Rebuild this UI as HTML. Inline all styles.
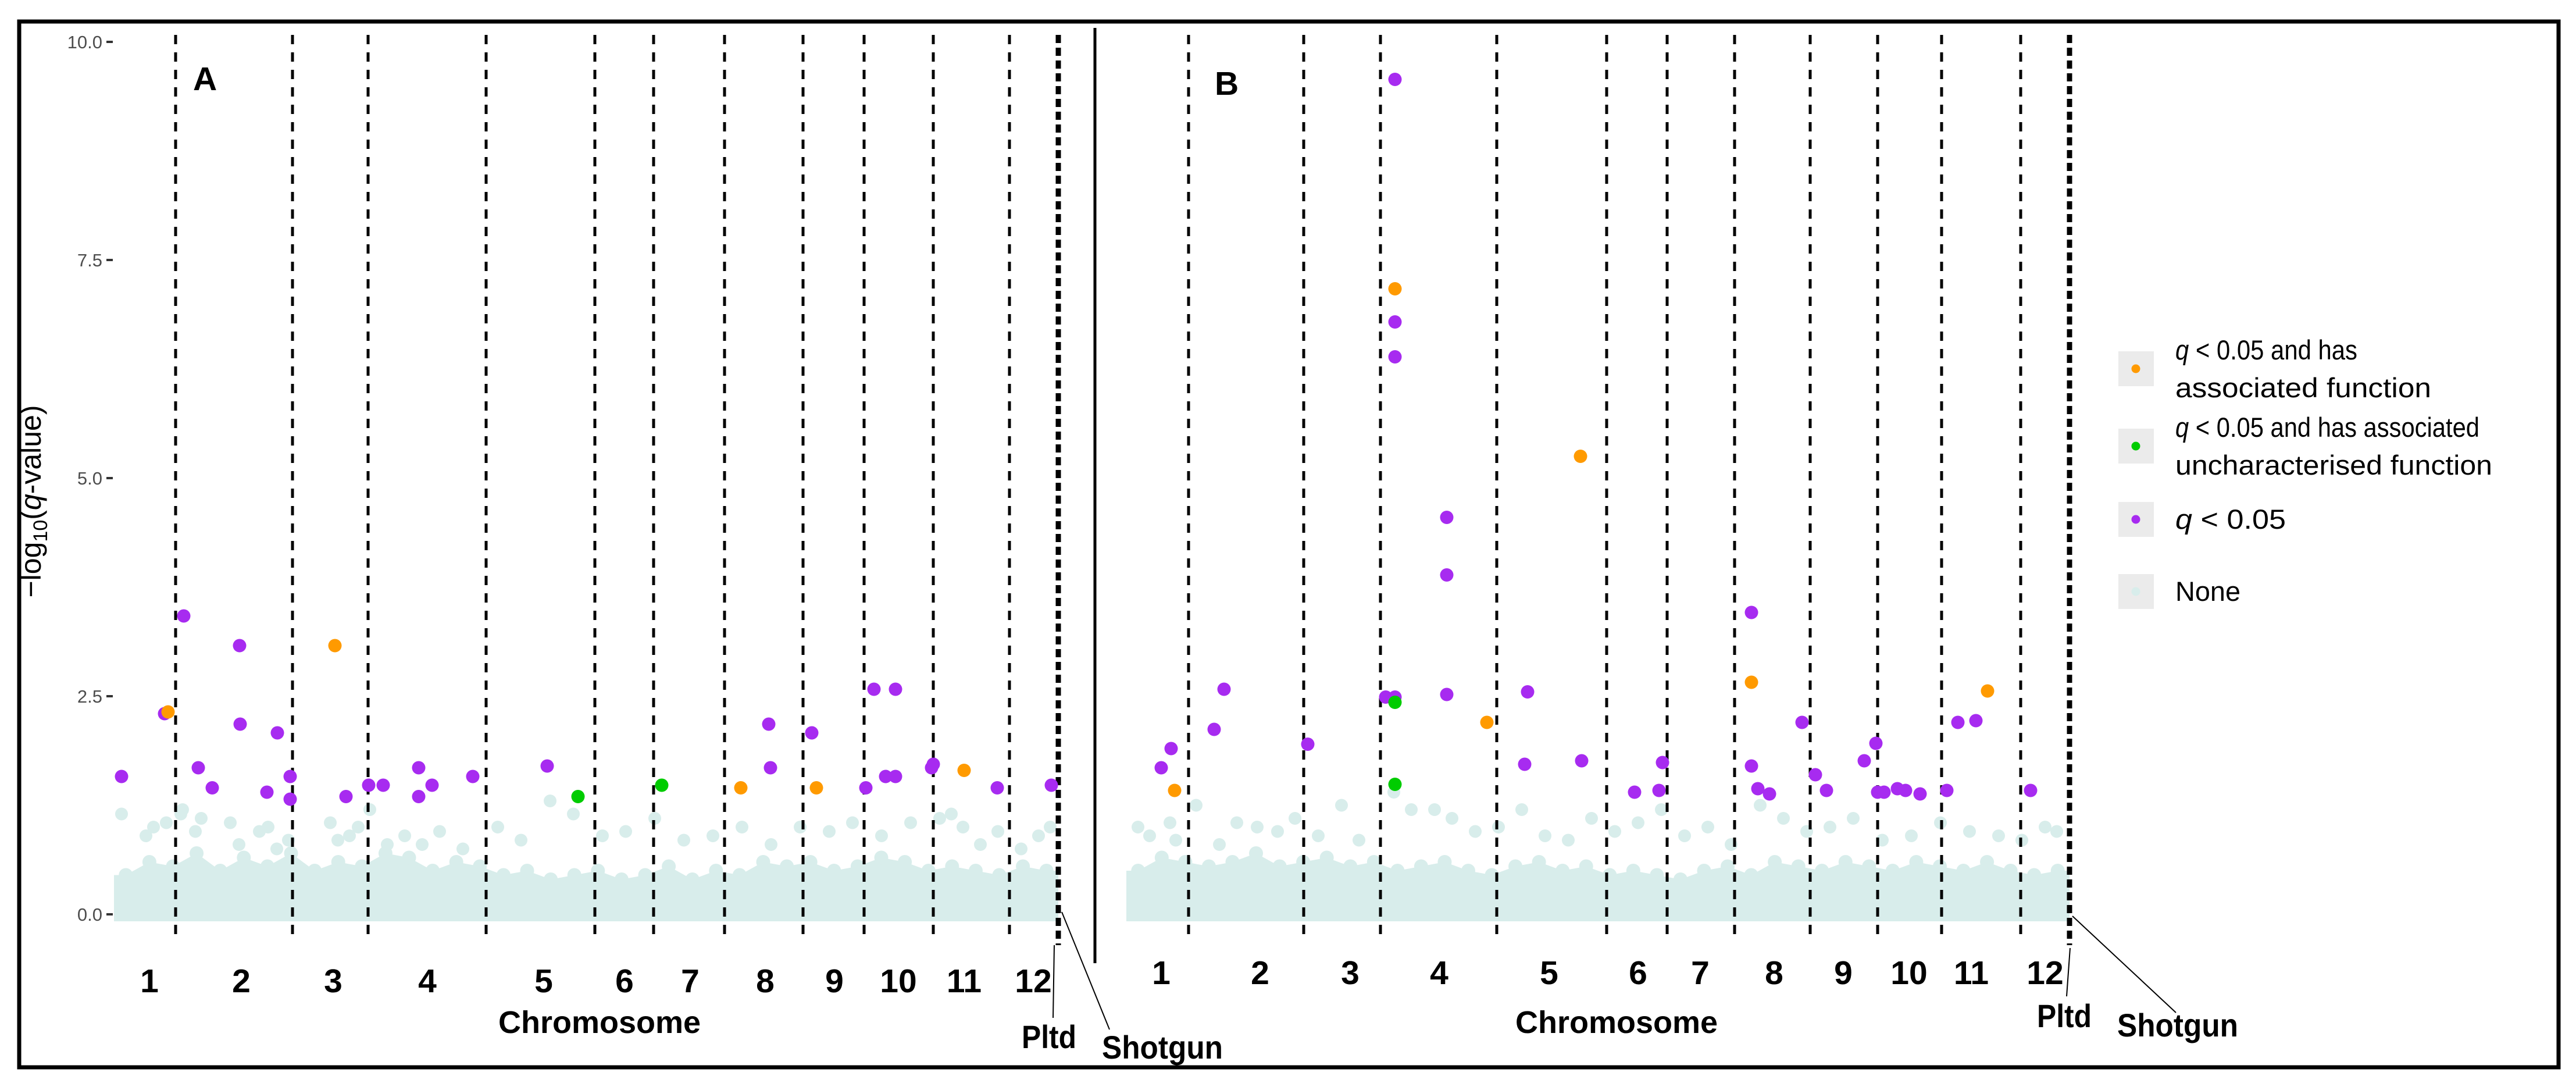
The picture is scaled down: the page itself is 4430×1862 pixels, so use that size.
<!DOCTYPE html>
<html><head><meta charset="utf-8"><style>
html,body{margin:0;padding:0;background:#fff;}
svg{display:block;}
text{font-family:"Liberation Sans",sans-serif;}
</style></head><body>
<svg id="chart" width="4430" height="1862" viewBox="0 0 4430 1862" xmlns="http://www.w3.org/2000/svg">
<rect x="33" y="37" width="4367" height="1798" fill="none" stroke="#000" stroke-width="7"/>
<g id="layer"></g>
</svg>
<script>
// ---------- data ----------
const yTicks = [0, 2.5, 5, 7.5, 10];
const yTickLabels = ["0.0", "2.5", "5.0", "7.5", "10.0"];
const chromLabels = ["1","2","3","4","5","6","7","8","9","10","11","12"];
const boundsA = [106, 307, 437, 640, 827, 928, 1050, 1185, 1290, 1409, 1540];
const boundsB = [107, 305, 437, 637, 826, 930, 1046, 1176, 1292, 1402, 1538];
const pltdA = 1624;
const pltdB = 1622;
const chromLabelPosA = [61, 219, 377, 539, 739, 878, 991, 1120, 1239, 1349, 1462, 1581];
const chromLabelPosB = [60, 230, 385, 538, 727, 880, 987, 1114, 1233, 1346, 1453, 1580];
const hitPosA = [13,87,93,120,145,169,216,217,263,281,303,303,380,399,438,463,524,524,547,617,745,798,942,1078,1126,1129,1200,1208,1293,1307,1344,1327,1344,1406,1409,1462,1519,1612];
const hitValA = [1.58,2.3,2.32,3.42,1.68,1.45,3.08,2.18,1.4,2.08,1.58,1.32,3.08,1.35,1.48,1.48,1.68,1.35,1.48,1.58,1.7,1.35,1.48,1.45,2.18,1.68,2.08,1.45,1.45,2.58,2.58,1.58,1.58,1.68,1.72,1.65,1.45,1.48];
const hitClsA = ["p","p","o","p","p","p","p","p","p","p","p","p","o","p","p","p","p","p","p","p","p","g","g","o","p","p","p","o","p","p","p","p","p","p","p","o","p","p"];
const hitPosB = [60,77,83,151,168,312,446,462,462,462,462,462,462,462,551,551,551,620,685,690,781,783,874,922,916,1075,1075,1075,1086,1106,1162,1185,1204,1269,1289,1292,1303,1326,1340,1365,1411,1430,1461,1481,1555];
const hitValB = [1.68,1.9,1.42,2.12,2.58,1.95,2.49,9.57,7.17,6.79,6.39,2.49,2.43,1.49,4.55,3.89,2.52,2.2,1.72,2.55,5.25,1.76,1.4,1.74,1.42,3.46,2.66,1.7,1.44,1.38,2.2,1.6,1.42,1.76,1.96,1.4,1.4,1.44,1.42,1.38,1.42,2.2,2.22,2.56,1.42];
const hitClsB = ["p","p","o","p","p","p","p","p","o","p","p","p","g","g","p","p","p","o","p","p","o","p","p","p","p","p","o","p","p","p","p","p","p","p","p","p","p","p","p","p","p","p","p","o","p"];
const envA = [0.45,0.6,0.55,0.7,0.5,0.65,0.55,0.7,0.5,0.6,0.55,0.7,0.65,0.5,0.6,0.55,0.45,0.5,0.4,0.45,0.5,0.4,0.45,0.55,0.4,0.5,0.45,0.6,0.55,0.6,0.5,0.55,0.65,0.6,0.5,0.55,0.5,0.45,0.55,0.5];
const envB = [0.5,0.65,0.6,0.55,0.6,0.7,0.55,0.6,0.65,0.55,0.6,0.5,0.55,0.6,0.5,0.45,0.55,0.6,0.5,0.55,0.45,0.5,0.45,0.4,0.5,0.55,0.45,0.6,0.55,0.5,0.6,0.55,0.5,0.6,0.55,0.5,0.6,0.5,0.45,0.5];
const nonPosA = [13,55,68,90,115,118,140,150,200,215,250,265,280,300,372,385,405,420,440,470,500,530,560,600,660,700,750,790,840,880,930,980,1030,1080,1130,1180,1230,1270,1320,1370,1420,1440,1460,1490,1520,1560,1590,1610];
const nonValA = [1.15,0.9,1.0,1.05,1.15,1.2,0.95,1.1,1.05,0.8,0.95,1.0,0.75,0.85,1.05,0.85,0.9,1.0,1.2,0.8,0.9,0.8,0.95,0.75,1.0,0.85,1.3,1.15,0.9,0.95,1.1,0.85,0.9,1.0,0.8,1.0,0.95,1.05,0.9,1.05,1.1,1.15,1.0,0.8,0.95,0.75,0.9,1.0];
const nonPosB = [20,40,75,85,120,160,190,225,260,290,330,370,400,460,490,530,560,600,640,680,720,760,800,840,880,920,960,1000,1040,1090,1130,1170,1210,1250,1300,1350,1400,1450,1500,1540,1580,1600];
const nonValB = [1.0,0.9,1.05,0.85,1.25,0.8,1.05,1.0,0.95,1.1,0.9,1.25,0.85,1.4,1.2,1.2,1.1,0.95,1.0,1.2,0.9,0.85,1.1,0.95,1.05,1.2,0.9,1.0,0.8,1.25,1.1,0.95,1.0,1.1,0.85,0.9,1.05,0.95,0.9,0.85,1.0,0.95];

// ---------- scales ----------
const Y0 = 1572, PXU = 150;
const yScale = v => Y0 - v * PXU;
const panels = [
  {id:"a", x0:196, bounds:boundsA, pltd:pltdA, labPos:chromLabelPosA, hp:hitPosA, hv:hitValA, hc:hitClsA, env:envA, np:nonPosA, nv:nonValA, lab:"A", labX:332, labY:155,
   chromX:1031, pltdTxt:[1757,1802], shotTxt:[1895,1820], labelY:1706, pltdLine:[1813,1625,1811,1750], shotLine:[1826,1568,1908,1770]},
  {id:"b", x0:1937, bounds:boundsB, pltd:pltdB, labPos:chromLabelPosB, hp:hitPosB, hv:hitValB, hc:hitClsB, env:envB, np:nonPosB, nv:nonValB, lab:"B", labX:2089, labY:163,
   chromX:2780, pltdTxt:[3503,1766], shotTxt:[3641,1782], labelY:1692, pltdLine:[3560,1630,3554,1713], shotLine:[3564,1575,3742,1741]}
];
const colors = {o:"#ff9a00", g:"#00cc00", p:"#a72bf0"};
const NONE_COL = "#d8edeb";
const NS = "http://www.w3.org/2000/svg";
const layer = document.getElementById("layer");
function mk(tag, attrs, parent){ const e=document.createElementNS(NS,tag); for(const k in attrs) e.setAttribute(k,attrs[k]); (parent||layer).appendChild(e); return e; }

yTicks.forEach((t,i)=>{
  const y = yScale(t);
  const tk = mk("line",{x1:183,x2:194,y1:y,y2:y,stroke:"#333",'stroke-width':4});
  
  
  const tx = mk("text",{x:176,y:y+11,'text-anchor':'end','font-size':31,fill:'#4d4d4d'});
  tx.textContent = yTickLabels[i];
  
  
});
const yt = mk("text",{transform:"translate(70,862) rotate(-90)",'text-anchor':'middle','font-size':50,fill:'#000'});


yt.innerHTML = '\u2212log<tspan font-size="34" dy="11">10</tspan><tspan dy="-11">(</tspan><tspan font-style="italic">q</tspan>-value)';

const dv = mk("line",{x1:1883,x2:1883,y1:48,y2:1656,stroke:'#000','stroke-width':5});



panels.forEach(p=>{
  const xs = v => p.x0 + v;
  const g = mk("g",{});
  
  
  const n = p.env.length, w = p.pltd / n;
  let d = `M${xs(0)},${yScale(0)+12} L${xs(0)},${yScale(p.env[0])}`;
  p.env.forEach((v,i)=>{ d += ` L${xs((i+0.5)*w)},${yScale(v)}`; });
  d += ` L${xs(p.pltd)},${yScale(p.env[n-1])} L${xs(p.pltd)},${yScale(0)+12} Z`;
  const env = mk("path",{d:d,fill:NONE_COL},g);
  
  
  p.env.forEach((v,i)=>{
    const c = mk("circle",{cx:xs((i+0.5)*w),cy:yScale(v),r:12,fill:NONE_COL},g);
    
    
  });
  p.np.forEach((pos,i)=>{
    const c = mk("circle",{cx:xs(pos),cy:yScale(p.nv[i]),r:11,fill:NONE_COL},g);
    
    
  });
  p.bounds.forEach(b=>{
    const l = mk("line",{x1:xs(b),x2:xs(b),y1:60,y2:1612,stroke:'#000','stroke-width':5,'stroke-dasharray':'16 14'},g);
    
    
  });
  const pl = mk("line",{x1:xs(p.pltd),x2:xs(p.pltd),y1:60,y2:1625,stroke:'#000','stroke-width':9,'stroke-dasharray':'14 8'},g);
  
  
  ["p","g","o"].forEach(cls=>{
    p.hp.forEach((pos,i)=>{
      if(p.hc[i]!==cls) return;
      const c = mk("circle",{cx:xs(pos),cy:yScale(p.hv[i]),r:11.5,fill:colors[cls]},g);
      
      
    });
  });
  p.labPos.forEach((pos,i)=>{
    const t = mk("text",{x:xs(pos),y:p.labelY,'text-anchor':'middle','font-size':57,'font-weight':'bold',fill:'#000'},g);
    t.textContent = chromLabels[i];
    
    
  });
  const ct = mk("text",{x:p.chromX,y:1776,'text-anchor':'middle','font-size':54,'font-weight':'bold',fill:'#000'},g);
  ct.textContent = "Chromosome";
  
  
  const pt = mk("text",{x:p.pltdTxt[0],y:p.pltdTxt[1],'font-size':56,'font-weight':'bold',fill:'#000',textLength:94,lengthAdjust:'spacingAndGlyphs'},g);
  pt.textContent = "Pltd";
  
  
  const st = mk("text",{x:p.shotTxt[0],y:p.shotTxt[1],'font-size':56,'font-weight':'bold',fill:'#000',textLength:208,lengthAdjust:'spacingAndGlyphs'},g);
  st.textContent = "Shotgun";
  
  
  const l1 = mk("line",{x1:p.pltdLine[0],y1:p.pltdLine[1],x2:p.pltdLine[2],y2:p.pltdLine[3],stroke:'#000','stroke-width':2},g);
  
  
  const l2 = mk("line",{x1:p.shotLine[0],y1:p.shotLine[1],x2:p.shotLine[2],y2:p.shotLine[3],stroke:'#000','stroke-width':2},g);
  
  
  const pa = mk("text",{x:p.labX,y:p.labY,'font-size':57,'font-weight':'bold',fill:'#000'},g);
  pa.textContent = p.lab;
  
  
});

const legKeys = [{c:colors.o,y:634},{c:colors.g,y:767},{c:colors.p,y:893},{c:NONE_COL,y:1017}];
const legLines = [
  [{t:"q",i:true},{t:" < 0.05 and has"}],[{t:"associated function"}],
  [{t:"q",i:true},{t:" < 0.05 and has associated"}],[{t:"uncharacterised function"}],
  [{t:"q",i:true},{t:" < 0.05"}],[{t:"None"}]];
const legLineY = [618,683,751,816,909,1033];
const legLineW = [313,440,523,545,190,112];
const lg = mk("g",{});


legKeys.forEach(k=>{
  const r = mk("rect",{x:3643,y:k.y-30,width:61,height:60,fill:'#ebebeb'},lg);
  
  
  const c = mk("circle",{cx:3673,cy:k.y,r:7.5,fill:k.c},lg);
  
  
});
legLines.forEach((parts,i)=>{
  const t = mk("text",{x:3741,y:legLineY[i],'font-size':47,fill:'#000',textLength:legLineW[i],lengthAdjust:'spacingAndGlyphs'},lg);
  t.innerHTML = parts.map(s=> s.i ? `<tspan font-style="italic">${s.t}</tspan>` : s.t.replace(/</g,'&lt;')).join('');
  
  
});
</script>
</body></html>
